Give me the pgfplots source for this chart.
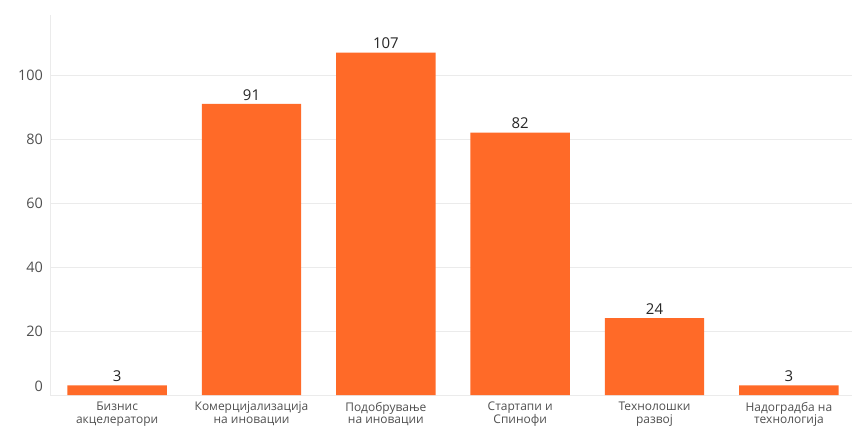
\documentclass[border=0pt]{standalone}
\usepackage{fontspec}
\setmainfont{Open Sans}
\usepackage{pgfplots}
\pgfplotsset{compat=1.18}
\definecolor{barorange}{HTML}{FF6A28}
\definecolor{tickgray}{HTML}{505050}
\definecolor{gridgray}{HTML}{EBEBEB}
\begin{document}
\begin{tikzpicture}[x=1bp,y=1bp]
\clip (0,0) rectangle (852,426);
\fill[white] (0,0) rectangle (852,426);
\begin{axis}[
    at={(50bp,31bp)}, anchor=south west,
    scale only axis,
    width=802bp, height=380bp,
    xmin=-0.5, xmax=5.47,
    ymin=0, ymax=118.75,
    ybar, bar width=0.74,
    bar shift=0pt,
    axis line style={gridgray, line width=0.8pt},
    axis x line*=bottom,
    axis y line*=left,
    ytick={20,40,60,80,100},
    extra y ticks={2.8},
    extra y tick labels={0},
    extra y tick style={grid=none},
    ymajorgrids=true,
    grid style={gridgray, line width=0.8pt},
    major tick length=0pt,
    xtick={0,...,5},
    xticklabels={{Бизнис\\акцелератори},{Комерцијализација\\на иновации},{Подобрување\\на иновации},{Стартапи и\\Спинофи},{Технолошки\\развој},{Надоградба на\\технологија}},
    xticklabel style={align=center, font=\fontsize{12}{12.5}\selectfont, text=tickgray, inner sep=0pt, yshift=-7bp},
    yticklabel style={font=\fontsize{14.5}{16}\selectfont, text=tickgray, inner sep=0pt, xshift=-7bp},
    /pgf/number format/assume math mode=true,
    nodes near coords,
    every node near coord/.append style={font=\fontsize{15}{16}\selectfont, text=black!85, yshift=0bp},
]
\addplot[fill=barorange, draw=none] coordinates {
    (0,3) (1,91) (2,107) (3,82) (4,24) (5,3)
};
\end{axis}
\end{tikzpicture}
\end{document}
